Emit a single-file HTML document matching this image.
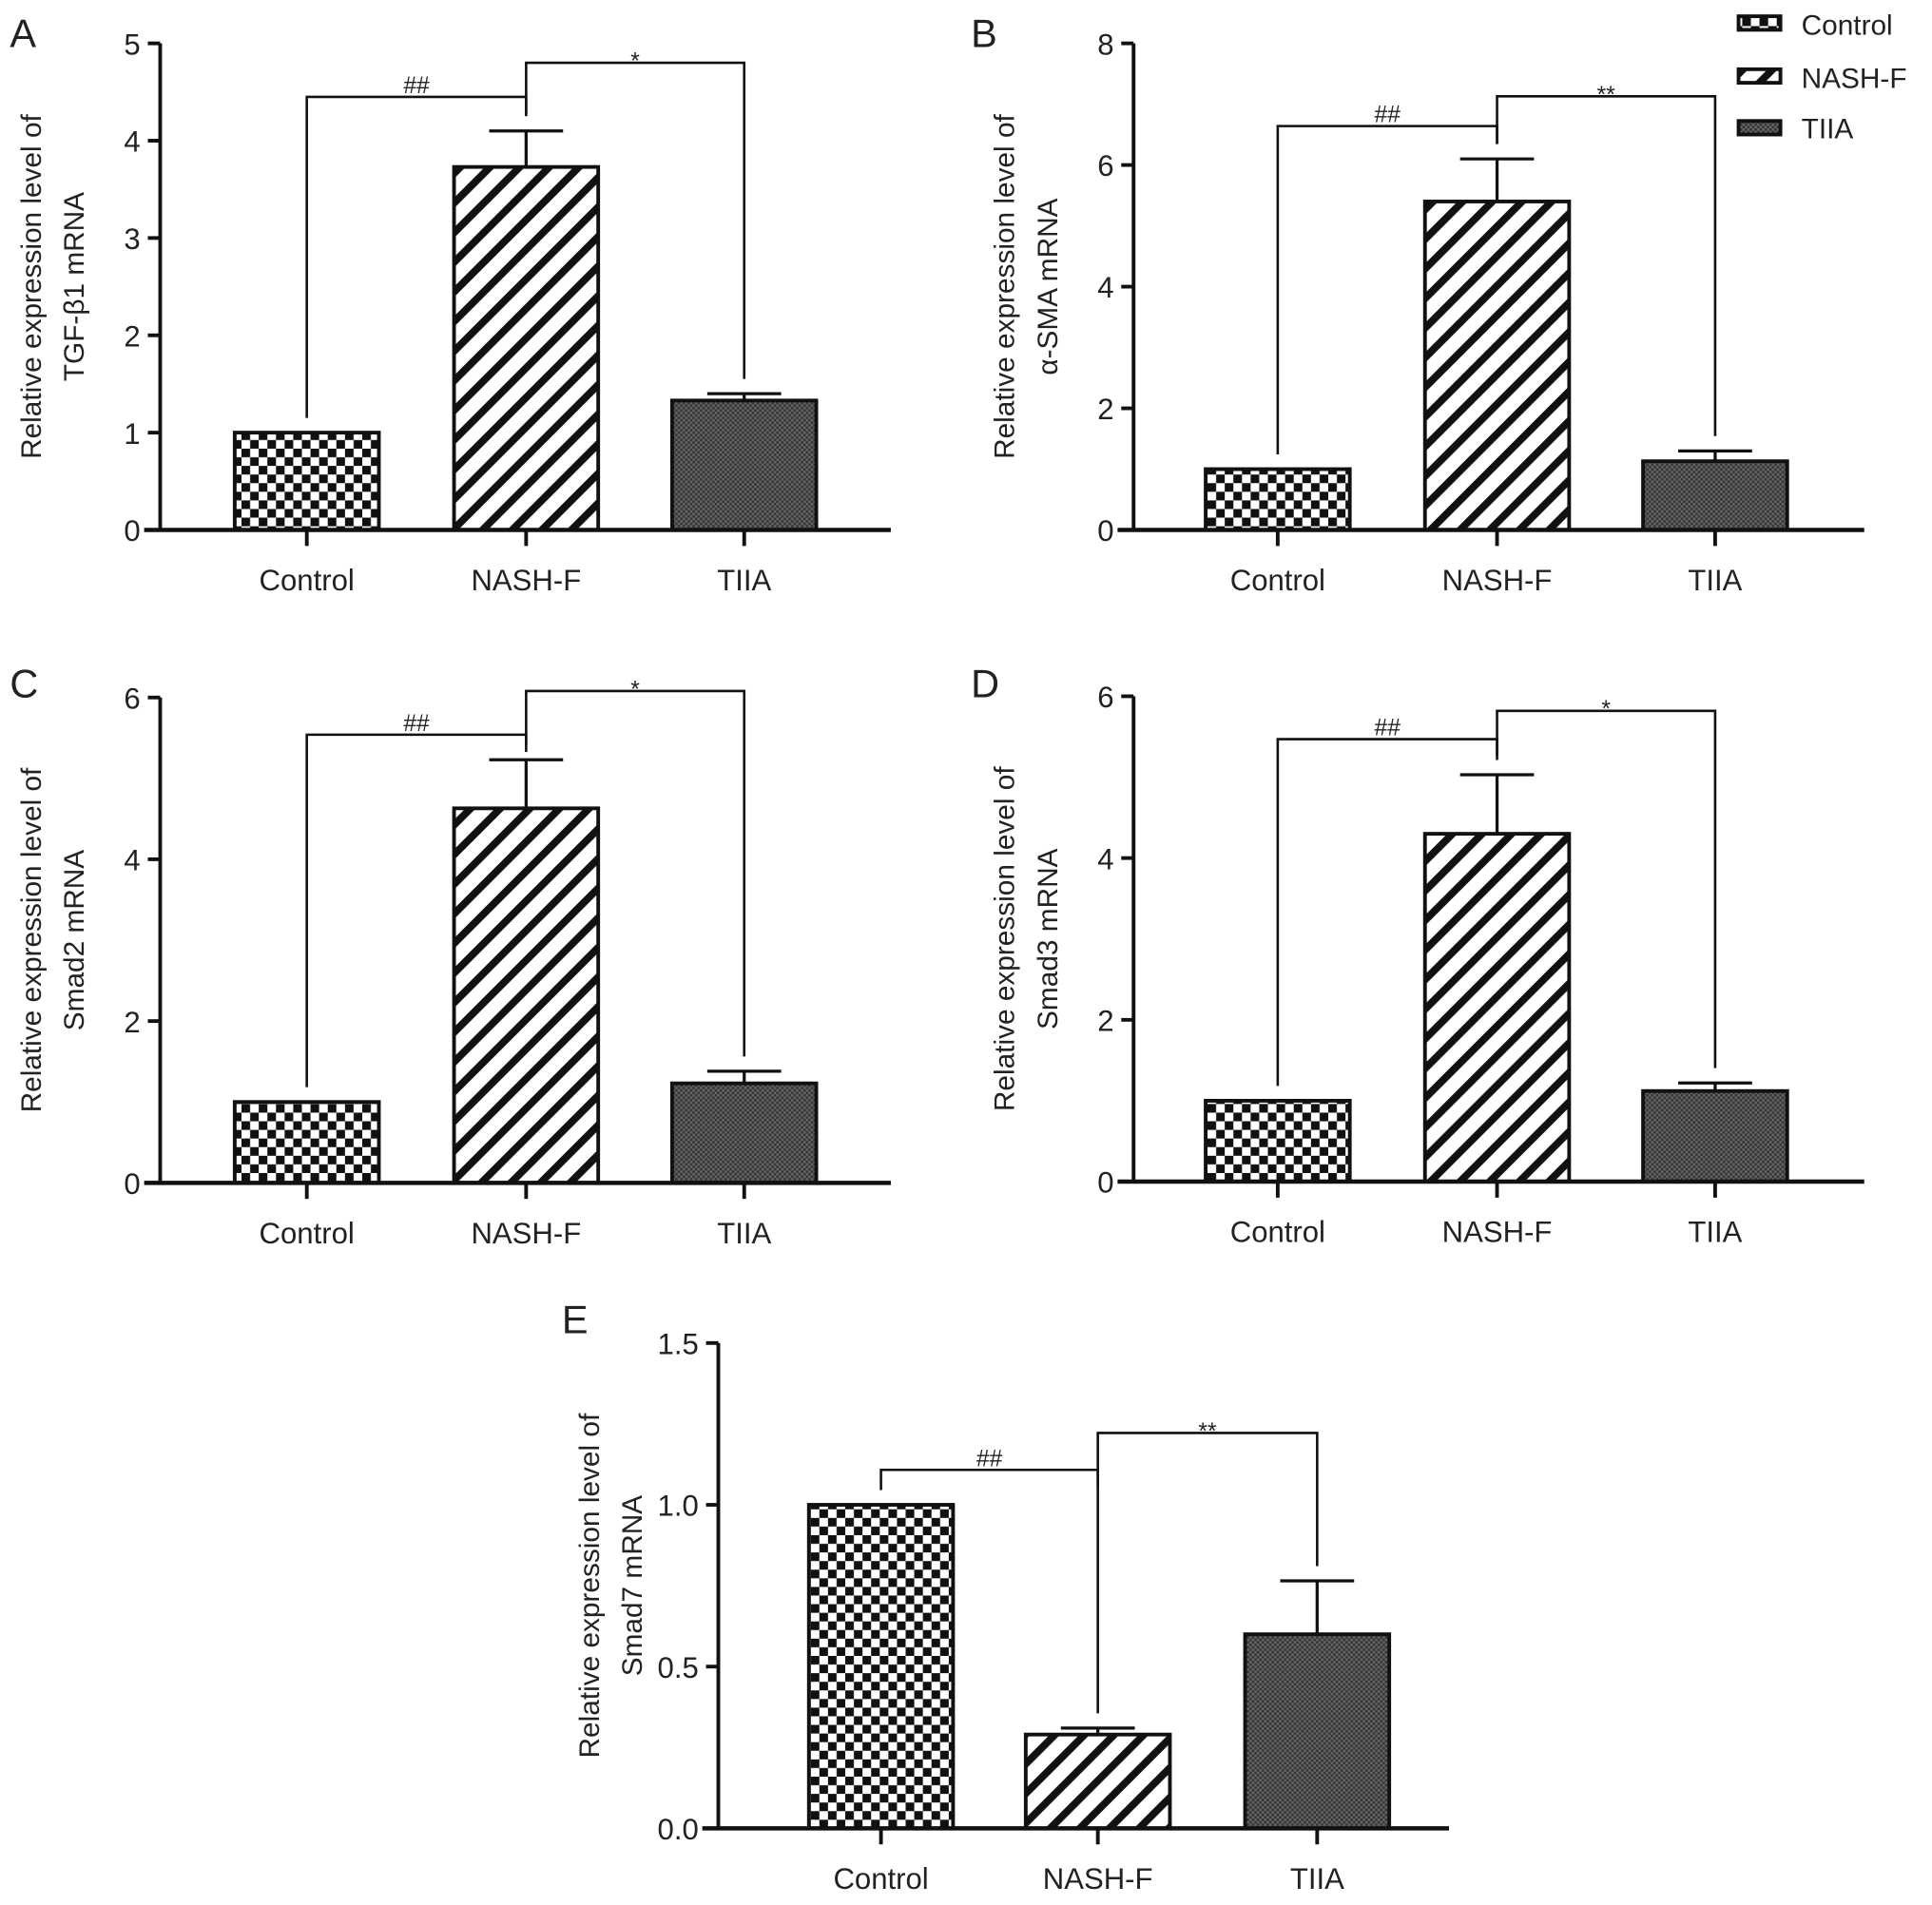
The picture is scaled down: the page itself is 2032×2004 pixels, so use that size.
<!DOCTYPE html>
<html><head><meta charset="utf-8"><style>
html,body{margin:0;padding:0;background:#fff}
svg{display:block}
text{font-family:"Liberation Sans",sans-serif;fill:#222}
</style></head><body>
<svg id="fig" width="2032" height="2004" viewBox="0 0 1568 1546" xmlns="http://www.w3.org/2000/svg">
<defs>
<pattern id="pCheck" width="14" height="14" patternUnits="userSpaceOnUse"><rect width="14" height="14" fill="#fff"/><rect width="7" height="7" fill="#111"/><rect x="7" y="7" width="7" height="7" fill="#111"/></pattern>
<pattern id="pStripe" width="17" height="17" patternUnits="userSpaceOnUse" patternTransform="rotate(45)"><rect width="17" height="17" fill="#fff"/><rect width="6" height="17" fill="#111"/></pattern>
<pattern id="pDot" width="4" height="4" patternUnits="userSpaceOnUse"><rect width="4" height="4" fill="#666"/><rect width="2" height="2" fill="#333"/><rect x="2" y="2" width="2" height="2" fill="#333"/></pattern>
</defs>
<g>
<rect x="1411" y="13" width="34" height="11" fill="url(#pCheck)" stroke="#111" stroke-width="3"/><text x="1462" y="28" font-size="23">Control</text>
<rect x="1411" y="56" width="34" height="11" fill="url(#pStripe)" stroke="#111" stroke-width="3"/><text x="1462" y="71" font-size="23">NASH-F</text>
<rect x="1411" y="98" width="34" height="11" fill="url(#pDot)" stroke="#111" stroke-width="3"/><text x="1462" y="112" font-size="23">TIIA</text>
</g>
</svg>
<script>
const categories = ["Control","NASH-F","TIIA"];
const valsA = [1, 3.73, 1.33]; const errA = [0, 4.1, 1.4];
const valsB = [1, 5.4, 1.13]; const errB = [0, 6.1, 1.3];
const valsC = [1, 4.63, 1.23]; const errC = [0, 5.23, 1.38];
const valsD = [1, 4.3, 1.12]; const errD = [0, 5.03, 1.22];
const valsE = [1.0, 0.29, 0.6]; const errE = [0, 0.31, 0.765];
const ticksA = ["0","1","2","3","4","5"];
const ticksB = ["0","2","4","6","8"];
const ticksC = ["0","2","4","6"];
const ticksD = ["0","2","4","6"];
const ticksE = ["0.0","0.5","1.0","1.5"];
const sigA = [["##",4.45],["*",4.8]];
const sigB = [["##",6.64],["**",7.13]];
const sigC = [["##",5.54],["*",6.08]];
const sigD = [["##",5.47],["*",5.82]];
const sigE = [["##",1.108],["**",1.222]];

const NS="http://www.w3.org/2000/svg";
const svg=document.getElementById('fig');
const fills=["url(#pCheck)","url(#pStripe)","url(#pDot)"];
function mk(tag,attrs,parent,txt){const e=document.createElementNS(NS,tag);for(const k in attrs)e.setAttribute(k,attrs[k]);if(txt!==undefined)e.textContent=txt;parent.appendChild(e);return e;}

function panel(p){
  const g=mk('g',{},svg);
  
  
  const max=parseFloat(p.ticks[p.ticks.length-1]);
  const y=v=>p.y0-(v/max)*(p.y0-p.yTop);
  const cx=i=>p.ax+(p.cx[i]);
  const lt=mk('text',{x:p.lx,y:p.ly,'font-size':32},g,p.id);
  
  
  for(let i=0;i<3;i++){
    const r=mk('rect',{x:cx(i)-58.5,y:y(p.vals[i]),width:117,height:p.y0-y(p.vals[i]),fill:fills[i],stroke:'#111','stroke-width':3},g);
    
    
    if(p.err[i]>p.vals[i]){
      const e=mk('path',{d:`M${cx(i)},${y(p.vals[i])}V${y(p.err[i])}M${cx(i)-30},${y(p.err[i])}H${cx(i)+30}`,stroke:'#111','stroke-width':2.5,fill:'none'},g);
      
      
    }
  }
  const ya=mk('path',{d:`M${p.ax},${p.y0}V${p.yTop}`,stroke:'#111','stroke-width':3},g);
  
  
  p.ticks.forEach(t=>{
    const yy=y(parseFloat(t));
    mk('path',{d:`M${p.ax-10},${yy}H${p.ax}`,stroke:'#111','stroke-width':3},g);
    const tl=mk('text',{x:p.ax-16,y:yy+9,'font-size':24,'text-anchor':'end'},g,t);
    
    
  });
  const xa=mk('path',{d:`M${p.ax-13},${p.y0}H${p.ax+593}`,stroke:'#111','stroke-width':3.5},g);
  
  
  for(let i=0;i<3;i++){
    mk('path',{d:`M${cx(i)},${p.y0}V${p.y0+13}`,stroke:'#111','stroke-width':3},g);
    const xl=mk('text',{x:cx(i),y:p.y0+49,'font-size':24,'text-anchor':'middle'},g,categories[i]);
    
    
  }
  const tt=mk('text',{transform:`translate(${p.ax-97},${(p.y0+p.yTop)/2}) rotate(-90)`,'font-size':23,'text-anchor':'middle'},g);
  
  
  mk('tspan',{x:0,y:0},tt,'Relative expression level of');
  mk('tspan',{x:0,y:35},tt,p.title);
  const s1=p.sig[0], s2=p.sig[1];
  const b1=mk('path',{d:`M${cx(0)},${y(p.vals[0])-12}V${y(s1[1])}H${cx(1)}V${y(p.err[1])-12}`,stroke:'#111','stroke-width':2,fill:'none'},g);
  
  
  mk('text',{x:(cx(0)+cx(1))/2,y:y(s1[1])-3,'font-size':19,'text-anchor':'middle',fill:'#444'},g,s1[0]);
  const b2=mk('path',{d:`M${cx(1)},${y(s1[1])+14}V${y(s2[1])}H${cx(2)}V${y(Math.max(p.err[2],p.vals[2]))-12}`,stroke:'#111','stroke-width':2,fill:'none'},g);
  
  
  mk('text',{x:(cx(1)+cx(2))/2,y:y(s2[1])+5,'font-size':19,'text-anchor':'middle',fill:'#444'},g,s2[0]);
}
const CX=[119,297,474];
panel({id:'A',ax:130,yTop:35,y0:430,ticks:ticksA,vals:valsA,err:errA,sig:sigA,cx:CX,lx:8,ly:38,title:'TGF-β1 mRNA'});
panel({id:'B',ax:920,yTop:35,y0:430,ticks:ticksB,vals:valsB,err:errB,sig:sigB,cx:[117,295,472],lx:788,ly:38,title:'α-SMA mRNA'});
panel({id:'C',ax:130,yTop:566,y0:960,ticks:ticksC,vals:valsC,err:errC,sig:sigC,cx:CX,lx:8,ly:566,title:'Smad2 mRNA'});
panel({id:'D',ax:920,yTop:565,y0:959,ticks:ticksD,vals:valsD,err:errD,sig:sigD,cx:[117,295,472],lx:788,ly:566,title:'Smad3 mRNA'});
panel({id:'E',ax:583,yTop:1090,y0:1484,ticks:ticksE,vals:valsE,err:errE,sig:sigE,cx:[132,308,486],lx:456,ly:1082,title:'Smad7 mRNA'});
</script>
</body></html>
